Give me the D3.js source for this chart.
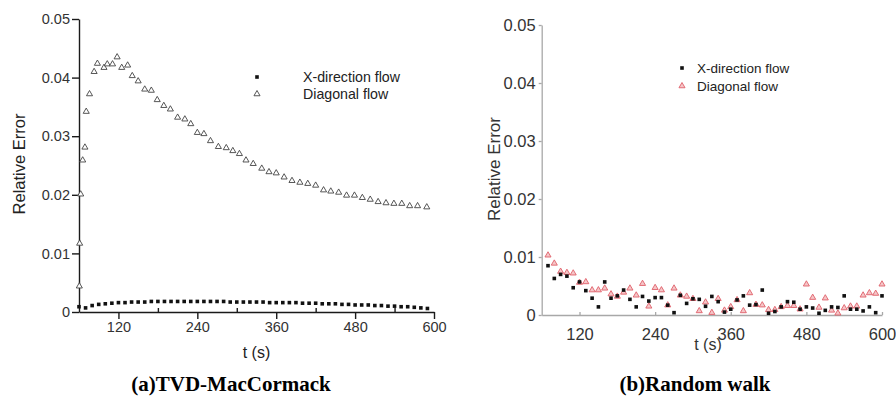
<!DOCTYPE html>
<html>
<head>
<meta charset="utf-8">
<script src="https://cdn.jsdelivr.net/npm/d3@7"></script>
<style>
  body { margin: 0; background: #fff; }
  svg { display: block; }
</style>
</head>
<body>
<svg id="chart" width="896" height="403"></svg>
<script>
const majorTicks = [120, 240, 360, 480, 600];
const minorTicks = [180, 300, 420, 540];
const errTicks = [0, 0.01, 0.02, 0.03, 0.04, 0.05];
const seriesNames = ['X-direction flow', 'Diagonal flow'];

// (a) TVD-MacCormack
const tvdXTime = [60, 70, 80, 90, 100, 110, 120, 130, 140, 150, 160, 170, 180, 190, 200, 210, 220, 230,
  240, 250, 260, 270, 280, 290, 300, 310, 320, 330, 340, 350, 360, 370, 380, 390, 400, 410, 420, 430,
  440, 450, 460, 470, 480, 490, 500, 510, 520, 530, 540, 550, 560, 570, 580, 590];
const tvdXErr = [0.0009, 0.0007, 0.0011, 0.0013, 0.0014, 0.0015, 0.0016, 0.0016, 0.0017, 0.0017, 0.0017,
  0.0018, 0.0018, 0.0018, 0.0018, 0.0018, 0.0018, 0.0018, 0.0018, 0.0018, 0.0018, 0.0018, 0.0018, 0.0017,
  0.0017, 0.0017, 0.0017, 0.0017, 0.0017, 0.0016, 0.0016, 0.0016, 0.0016, 0.0016, 0.0015, 0.0015, 0.0015,
  0.0014, 0.0014, 0.0014, 0.0013, 0.0013, 0.0012, 0.0012, 0.0012, 0.0011, 0.0011, 0.0010, 0.0010, 0.0009,
  0.0009, 0.0008, 0.0007, 0.0006];
const tvdDiagTime = [60.5, 61, 62.6, 65.6, 69, 71, 76, 83, 88, 98, 103, 111, 118, 125, 134, 141, 150, 160,
  170, 179, 189, 199, 210, 221, 230, 240, 250, 260, 272, 284, 294, 304, 314, 325, 338, 349, 360, 372, 384,
  396, 408, 420, 432, 443, 455, 467, 479, 491, 503, 515, 527, 539, 551, 563, 575, 589];
const tvdDiagErr = [0.0044, 0.0117, 0.0201, 0.0259, 0.0281, 0.0342, 0.0372, 0.0410, 0.0424, 0.0417, 0.0423,
  0.0423, 0.0435, 0.0417, 0.0421, 0.0403, 0.0394, 0.0380, 0.0378, 0.0362, 0.0352, 0.0346, 0.0332, 0.0329,
  0.0321, 0.0306, 0.0304, 0.0292, 0.0282, 0.0280, 0.0275, 0.0270, 0.0259, 0.0253, 0.0245, 0.0239, 0.0237,
  0.0230, 0.0224, 0.0221, 0.0219, 0.0216, 0.0208, 0.0206, 0.0204, 0.0199, 0.0199, 0.0195, 0.0192, 0.0188,
  0.0186, 0.0185, 0.0185, 0.0181, 0.0181, 0.0179];

// (b) Random walk
const rwTime = [70, 80, 90, 100, 110, 120, 130, 140, 150, 160, 170, 180, 190, 200, 210, 220, 230, 240,
  250, 260, 270, 280, 290, 300, 310, 320, 330, 340, 350, 360, 370, 380, 390, 400, 410, 420, 430, 440,
  450, 460, 470, 480, 490, 500, 510, 520, 530, 540, 550, 560, 570, 580, 590, 600];
const rwXErr = [0.0085, 0.0063, 0.0070, 0.0067, 0.0047, 0.0057, 0.0042, 0.0029, 0.0014, 0.0057, 0.0029,
  0.0033, 0.0043, 0.0027, 0.0014, 0.0032, 0.0024, 0.0030, 0.0030, 0.0017, 0.0004, 0.0034, 0.0020, 0.0028,
  0.0027, 0.0015, 0.0032, 0.0023, 0.0005, 0.0010, 0.0026, 0.0033, 0.0017, 0.0018, 0.0043, 0.0003, 0.0006,
  0.0014, 0.0023, 0.0022, 0.0010, 0.0014, 0.0012, 0.0003, 0.0008, 0.0014, 0.0013, 0.0033, 0.0010, 0.0010,
  0.0007, 0.0014, 0.0004, 0.0033];
const rwDiagErr = [0.0103, 0.0089, 0.0075, 0.0073, 0.0072, 0.0056, 0.0057, 0.0043, 0.0043, 0.0046, 0.0036,
  0.0032, 0.0039, 0.0046, 0.0034, 0.0054, 0.0015, 0.0047, 0.0043, 0.0017, 0.0046, 0.0034, 0.0032, 0.0028,
  0.0007, 0.0022, 0.0004, 0.0028, 0.0008, 0.0014, 0.0026, 0.0007, 0.0038, 0.0018, 0.0017, 0.0009, 0.0009,
  0.0014, 0.0016, 0.0016, 0.0010, 0.0053, 0.0030, 0.0013, 0.0029, 0.0008, 0.0003, 0.0012, 0.0015, 0.0015,
  0.0034, 0.0038, 0.0037, 0.0053];

const sans = 'Liberation Sans, Arial, sans-serif';
const serif = 'Liberation Serif, Times New Roman, serif';
const fmtErr = (d) => (d === 0 ? '0' : d3.format('.2f')(d));

const svg = d3.select('#chart');

const square = d3.symbol(d3.symbolSquare, 13);
const triangle = d3.symbol(d3.symbolTriangle, 16);

const zip = (xs, ys) => xs.map((x, i) => ({ t: x, v: ys[i] }));

// ---------- panel (a) ----------
const xA = d3.scaleLinear().domain([60, 600]).range([79, 434]);
const yA = d3.scaleLinear().domain([0, 0.05]).range([312, 19]);
const gA = svg.append('g');

gA.append('g')
  .attr('transform', `translate(${xA.range()[0]},0)`)
  .call(d3.axisLeft(yA).tickValues(errTicks).tickFormat(fmtErr).tickSize(7).tickSizeOuter(0).tickPadding(2));
gA.append('g')
  .attr('transform', `translate(0,${yA(0)})`)
  .call(d3.axisBottom(xA).tickValues(majorTicks).tickSize(7).tickSizeOuter(0).tickPadding(3));
gA.append('g')
  .attr('transform', `translate(0,${yA(0)})`)
  .call(d3.axisBottom(xA).tickValues(minorTicks).tickSize(-4).tickFormat(''))
  .call((g) => g.select('.domain').remove());

gA.selectAll('.domain, .tick line').attr('stroke', '#1a1a1a').attr('stroke-width', 1.4);
gA.selectAll('.tick text').attr('fill', '#333').attr('font-family', sans).attr('font-size', 14.5);

gA.append('g')
  .selectAll('path')
  .data(zip(tvdXTime, tvdXErr))
  .join('path')
  .attr('transform', (d) => `translate(${xA(d.t)},${yA(d.v)})`)
  .attr('d', square)
  .attr('fill', '#111');

gA.append('g')
  .selectAll('path')
  .data(zip(tvdDiagTime, tvdDiagErr))
  .join('path')
  .attr('transform', (d) => `translate(${xA(d.t)},${yA(d.v)})`)
  .attr('d', triangle)
  .attr('fill', '#fff')
  .attr('stroke', '#444')
  .attr('stroke-width', 0.9);

gA.append('text')
  .attr('transform', 'translate(25,164) rotate(-90)')
  .attr('text-anchor', 'middle')
  .attr('font-family', sans)
  .attr('font-size', 16.5)
  .attr('fill', '#222')
  .text('Relative Error');

gA.append('text')
  .attr('x', (xA.range()[0] + xA.range()[1]) / 2)
  .attr('y', 358)
  .attr('text-anchor', 'middle')
  .attr('font-family', sans)
  .attr('font-size', 16)
  .attr('fill', '#222')
  .text('t (s)');

// legend (a)
const legA = gA.append('g').attr('font-family', sans).attr('font-size', 14.2).attr('fill', '#222');
legA.append('path').attr('transform', 'translate(257,77)').attr('d', square).attr('fill', '#111');
legA.append('path').attr('transform', 'translate(257,94)').attr('d', triangle)
  .attr('fill', '#fff').attr('stroke', '#444').attr('stroke-width', 0.9);
legA.selectAll('text')
  .data(seriesNames)
  .join('text')
  .attr('x', 303)
  .attr('y', (d, i) => 77 + i * 17)
  .attr('dy', '0.35em')
  .text((d) => d);

// ---------- panel (b) ----------
const xB = d3.scaleLinear().domain([60, 600]).range([541.7, 882]);
const yB = d3.scaleLinear().domain([0, 0.05]).range([315, 25]);
const gB = svg.append('g');

gB.append('g')
  .attr('transform', `translate(${xB.range()[0]},0)`)
  .call(d3.axisLeft(yB).tickValues(errTicks).tickFormat(fmtErr).tickSize(3).tickSizeOuter(0).tickPadding(3));
gB.append('g')
  .attr('transform', `translate(0,${yB(0)})`)
  .call(d3.axisBottom(xB).tickValues(majorTicks).tickSize(-3).tickSizeOuter(0).tickPadding(13));

gB.selectAll('.domain, .tick line').attr('stroke', '#a8a8a8').attr('stroke-width', 1.3);
gB.selectAll('.tick text').attr('fill', '#333').attr('font-family', sans).attr('font-size', 16.5);

gB.append('g')
  .selectAll('path')
  .data(zip(rwTime, rwDiagErr))
  .join('path')
  .attr('transform', (d) => `translate(${xB(d.t)},${yB(d.v)})`)
  .attr('d', triangle)
  .attr('fill', '#f5c6c8')
  .attr('stroke', '#e0606a')
  .attr('stroke-width', 0.9);

gB.append('g')
  .selectAll('path')
  .data(zip(rwTime, rwXErr))
  .join('path')
  .attr('transform', (d) => `translate(${xB(d.t)},${yB(d.v)})`)
  .attr('d', square)
  .attr('fill', '#111');

gB.append('text')
  .attr('transform', 'translate(500,169) rotate(-90)')
  .attr('text-anchor', 'middle')
  .attr('font-family', sans)
  .attr('font-size', 17)
  .attr('fill', '#333')
  .text('Relative Error');

gB.append('text')
  .attr('x', 708)
  .attr('y', 350)
  .attr('text-anchor', 'middle')
  .attr('font-family', sans)
  .attr('font-size', 16)
  .attr('fill', '#333')
  .text('t (s)');

// legend (b)
const legB = gB.append('g').attr('font-family', sans).attr('font-size', 13.5).attr('fill', '#222');
legB.append('path').attr('transform', 'translate(682,68)').attr('d', square).attr('fill', '#111');
legB.append('path').attr('transform', 'translate(682,86)').attr('d', triangle)
  .attr('fill', '#f5c6c8').attr('stroke', '#e0606a').attr('stroke-width', 0.9);
legB.selectAll('text')
  .data(seriesNames)
  .join('text')
  .attr('x', 697)
  .attr('y', (d, i) => 68 + i * 18)
  .attr('dy', '0.35em')
  .text((d) => d);

// captions
svg.append('text')
  .attr('x', 231).attr('y', 391)
  .attr('text-anchor', 'middle')
  .attr('font-family', serif).attr('font-weight', 'bold').attr('font-size', 21)
  .text('(a)TVD-MacCormack');
svg.append('text')
  .attr('x', 695).attr('y', 391)
  .attr('text-anchor', 'middle')
  .attr('font-family', serif).attr('font-weight', 'bold').attr('font-size', 21)
  .text('(b)Random walk');
</script>
</body>
</html>
